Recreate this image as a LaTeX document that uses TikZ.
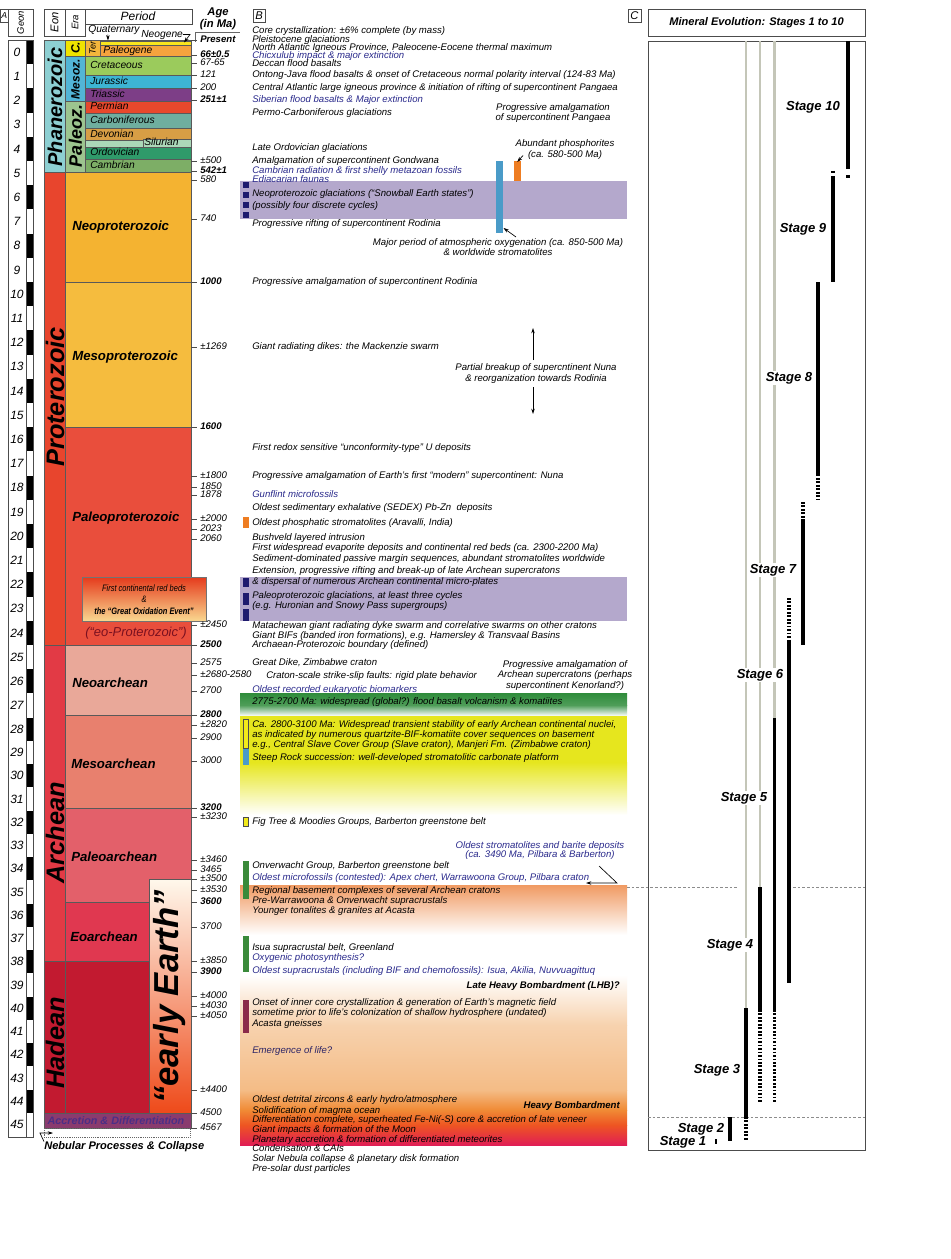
\documentclass[tikz,border=0pt]{standalone}
\usepackage{fontspec}
\setmainfont{Liberation Sans}
\usetikzlibrary{arrows.meta}
\definecolor{navyt}{HTML}{2A2A8C}
\definecolor{lifet}{HTML}{2C2466}
\definecolor{phan}{HTML}{8DCFD2}
\definecolor{ceno}{HTML}{F0E300}
\definecolor{mesoz}{HTML}{52B5D6}
\definecolor{paleoz}{HTML}{9CC48F}
\definecolor{ter}{HTML}{F4B63C}
\definecolor{quat}{HTML}{FFF46A}
\definecolor{neog}{HTML}{F9E51E}
\definecolor{paleog}{HTML}{F6A33E}
\definecolor{cret}{HTML}{9BCB5C}
\definecolor{jur}{HTML}{3DB5D3}
\definecolor{tri}{HTML}{7D3E87}
\definecolor{perm}{HTML}{E8482C}
\definecolor{carb}{HTML}{6FAE9F}
\definecolor{dev}{HTML}{D89E45}
\definecolor{sil}{HTML}{ABD8B8}
\definecolor{ord}{HTML}{2F9A6A}
\definecolor{camb}{HTML}{7DAE66}
\definecolor{prot}{HTML}{E8452D}
\definecolor{neop}{HTML}{F4B331}
\definecolor{mesop}{HTML}{F5BC3E}
\definecolor{paleop}{HTML}{E94E3C}
\definecolor{arch}{HTML}{E23A45}
\definecolor{neoa}{HTML}{E9A899}
\definecolor{mesoa}{HTML}{E8806E}
\definecolor{paleoa}{HTML}{E3606A}
\definecolor{eoa}{HTML}{E03850}
\definecolor{had}{HTML}{C21A30}
\definecolor{accr}{HTML}{8A3B6E}
\definecolor{accrtxt}{HTML}{4B2F86}
\definecolor{glac}{HTML}{B4A8CC}
\definecolor{glacsq}{HTML}{1E1B6E}
\definecolor{barblue}{HTML}{4A9BC8}
\definecolor{barorange}{HTML}{EE7D22}
\definecolor{bargreen}{HTML}{3A8A3A}
\definecolor{barmaroon}{HTML}{8B2A4A}
\definecolor{baryellow}{HTML}{F2EA1A}
\definecolor{bandgreen}{HTML}{2F8C3B}
\definecolor{bandyellow}{HTML}{E6E61E}
\definecolor{eored}{HTML}{7A1020}
\definecolor{graybar}{HTML}{C4C6B8}
\definecolor{lowA}{HTML}{F09A62}
\definecolor{lowB}{HTML}{F7D2AE}
\definecolor{lowC}{HTML}{F4BC86}
\definecolor{lowD}{HTML}{F08A35}
\definecolor{lowE}{HTML}{EE5522}
\definecolor{lowF}{HTML}{E01E55}
\definecolor{eeTop}{HTML}{FFF8EC}
\definecolor{eeMid}{HTML}{F7B570}
\definecolor{eeBot}{HTML}{EE4A1A}
\definecolor{goeTop}{HTML}{E53A1C}
\definecolor{goeMid}{HTML}{F39A3A}
\definecolor{goeBot}{HTML}{F9D890}
\tikzset{
  box/.style={draw=black!70, line width=0.4pt},
  cell/.style={draw=black!65, line width=0.35pt},
  bt/.style={anchor=west, inner sep=0pt, font=\fontsize{7.2}{8}\selectfont\itshape, text height=5.1pt, text depth=1.5pt},
  bb/.style={bt, text=navyt},
  bc/.style={anchor=center, inner sep=0pt, align=center, font=\fontsize{7.2}{7.9}\selectfont\itshape},
  agel/.style={anchor=west, inner sep=0pt, font=\fontsize{7.2}{8}\selectfont\itshape, text height=5.1pt, text depth=1.5pt},
  ageb/.style={anchor=west, inner sep=0pt, font=\fontsize{7.2}{8}\selectfont\itshape\bfseries, text height=5.1pt, text depth=1.5pt},
  eon/.style={rotate=90, inner sep=0pt, font=\fontsize{19}{19}\selectfont\itshape\bfseries},
  eralbl/.style={anchor=west, inner sep=0pt, font=\fontsize{9.9}{10}\selectfont\itshape\bfseries},
  perlbl/.style={anchor=west, inner sep=0pt, font=\fontsize{7.7}{8}\selectfont\itshape, text height=5.5pt, text depth=1.6pt},
  stagelbl/.style={inner sep=0.6pt, font=\fontsize{9.8}{10}\selectfont\itshape\bfseries},
  stagefill/.style={stagelbl, fill=white},
  stagebar/.style={line width=2.4pt},
  stagedot/.style={line width=2.4pt, dash pattern=on 1.3pt off 1.3pt},
  grayline/.style={draw=graybar, line width=1.6pt},
  arr/.style={-{Stealth[length=4pt,width=2.6pt]}, line width=0.5pt},
  geonnum/.style={inner sep=0pt, font=\fontsize{9}{9}\selectfont\itshape},
  hdr/.style={inner sep=0pt, font=\fontsize{8.4}{9}\selectfont\itshape},
  agetick/.style={draw=black!70, line width=0.4pt},
  sepdash/.style={draw=black!45, line width=0.4pt, dash pattern=on 2pt off 1.5pt},
}
\begin{document}
\begin{tikzpicture}[x=0.75pt,y=-0.75pt]
\useasboundingbox (0,0) rectangle (950,1259);
\fill[white] (0,0) rectangle (950,1259);

% panel label A (at the left edge)
\draw[box] (0.5,9) rectangle (8,22);
\node[hdr, font=\fontsize{6.5}{7}\selectfont\itshape] (lblA) at (4.3,15.5) {A};

% ---------------- Geon column
\draw[box] (8,9) rectangle (33,36);
\node[hdr, rotate=90, font=\fontsize{7.1}{8}\selectfont\itshape] (geonh) at (20.5,22.5) {Geon};
\foreach \g in {0,...,45}{
  \pgfmathsetmacro\ya{(100*\g)<2801 ? 40+0.242*100*\g : 717.6+(100*\g-2800)*0.2325}
  \pgfmathsetmacro\yb{(100*\g+100)<2801 ? 40+0.242*(100*\g+100) : 717.6+(100*\g+100-2800)*0.2325}
  \pgfmathsetmacro\ym{(\ya+\yb)/2}
  \pgfmathtruncatemacro\ev{mod(\g,2)}
  \ifnum\ev=0 \fill[black] (26.5,\ya) rectangle (33,\yb); \fi
  \node[geonnum] (geon\g) at (17,\ym) {\g};
}
\draw[box] (8,40) rectangle (33,1137);
\draw[box] (26,40) -- (26,1137);

% ---------------- headers
\draw[box] (44,9) rectangle (65,36);
\draw[box] (65,9) rectangle (85,36);
\draw[box] (85,9) rectangle (192,24);
\node[hdr, rotate=90] (eonh) at (54.5,22.5) {Eon};
\node[hdr, rotate=90, font=\fontsize{7.2}{8}\selectfont\itshape] (erah) at (75,22.5) {Era};
\node[hdr, font=\fontsize{9}{9}\selectfont\itshape] (perh) at (138,16.5) {Period};
\node[hdr, font=\fontsize{8.4}{9}\selectfont\itshape\bfseries] (ageh1) at (218,13) {Age};
\node[hdr, font=\fontsize{8.4}{9}\selectfont\itshape\bfseries] (ageh2) at (218,25) {(in Ma)};
\draw[black!60, line width=0.4pt] (195,42) -- (195,32) -- (240,32);

% ---------------- Phanerozoic
\filldraw[cell, fill=phan] (44,40) rectangle (65,172);
\filldraw[cell, fill=ceno] (65,40) rectangle (85,56);
\filldraw[cell, fill=mesoz] (65,56) rectangle (85,101);
\filldraw[cell, fill=paleoz] (65,101) rectangle (85,172);
\filldraw[cell, fill=ter] (85,40) rectangle (100,56);
\filldraw[cell, fill=quat] (100,40) rectangle (191,41.2);
\filldraw[cell, fill=neog] (100,41.2) rectangle (191,45);
\filldraw[cell, fill=paleog] (100,45) rectangle (191,56);
\filldraw[cell, fill=cret] (85,56) rectangle (191,75);
\filldraw[cell, fill=jur] (85,75) rectangle (191,88);
\filldraw[cell, fill=tri] (85,88) rectangle (191,101);
\filldraw[cell, fill=perm] (85,101) rectangle (191,113);
\filldraw[cell, fill=carb] (85,113) rectangle (191,128);
\filldraw[cell, fill=dev] (85,128) rectangle (191,140);
\filldraw[cell, fill=sil] (85,140) rectangle (191,147);
\filldraw[cell, fill=sil] (143,139) rectangle (191,147.5);
\filldraw[cell, fill=ord] (85,147) rectangle (191,159);
\filldraw[cell, fill=camb] (85,159) rectangle (191,172);

\node[eon, font=\fontsize{15}{15}\selectfont\itshape\bfseries] (phanl) at (55,107) {Phanerozoic};
\node[rotate=90, inner sep=0pt, font=\fontsize{9}{9}\selectfont\itshape\bfseries] (cenl) at (75.5,48) {C.};
\node[rotate=90, inner sep=0pt, font=\fontsize{9}{9}\selectfont\itshape\bfseries] (mesozl) at (75.5,79) {Mesoz.};
\node[rotate=90, inner sep=0pt, font=\fontsize{13.5}{13.5}\selectfont\itshape\bfseries] (paleozl) at (75.5,136) {Paleoz.};
\node[rotate=90, inner sep=0pt, font=\fontsize{6.8}{7}\selectfont\itshape] (terl) at (92.5,48) {Ter};
\node[perlbl] (pPaleog) at (103,50.7) {Paleogene};
\node[perlbl] (pCret) at (90,66) {Cretaceous};
\node[perlbl] (pJur) at (90,82) {Jurassic};
\node[perlbl] (pTri) at (90,95) {Triassic};
\node[perlbl] (pPerm) at (90,107) {Permian};
\node[perlbl] (pCarb) at (90,120.5) {Carboniferous};
\node[perlbl] (pDev) at (90,134.5) {Devonian};
\node[perlbl] (pSil) at (144,143.3) {Silurian};
\node[perlbl] (pOrd) at (90,153) {Ordovician};
\node[perlbl] (pCamb) at (90,165.5) {Cambrian};
\node[perlbl] (pQuat) at (88,29.5) {Quaternary};
\node[perlbl] (pNeog) at (141,34.5) {Neogene};
\coordinate (quatTip) at (108,40.5);
\coordinate (neogA) at (190,34.5);
\coordinate (neogTip) at (184,42.5);
\draw[arr] ([xshift=-24pt]pQuat.south east) -- (quatTip);
\draw[arr] (pNeog.east) -- (neogA) -- (neogTip);

% ---------------- Proterozoic
\filldraw[cell, fill=prot] (44,172) rectangle (65,645);
\filldraw[cell, fill=neop] (65,172) rectangle (191,282);
\filldraw[cell, fill=mesop] (65,282) rectangle (191,427);
\filldraw[cell, fill=paleop] (65,427) rectangle (191,645);
\node[eon] (protl) at (55,397) {Proterozoic};
\node[eralbl] (eNeop) at (72,227) {Neoproterozoic};
\node[eralbl] (eMesop) at (72,357) {Mesoproterozoic};
\node[eralbl] (ePaleop) at (72,518) {Paleoproterozoic};
\shade[top color=goeTop, middle color=goeMid, bottom color=goeBot] (82,577) rectangle (206,621);
\draw[box, draw=black!55] (82,577) rectangle (206,621);
\node[inner sep=0pt, font=\fontsize{7}{7}\selectfont\itshape] (goe1) at (144,588) {\scalebox{0.8}[1]{First continental red beds}};
\node[inner sep=0pt, font=\fontsize{7}{7}\selectfont\itshape] (goe2) at (144,599.5) {\scalebox{0.8}[1]{\&}};
\node[inner sep=0pt, font=\fontsize{7}{7}\selectfont\itshape\bfseries] (goe3) at (144,611.5) {\scalebox{0.8}[1]{the “Great Oxidation Event”}};
\node[inner sep=0pt, text=eored, font=\fontsize{9.7}{10}\selectfont\itshape] (eoprot) at (136,633) {(“eo-Proterozoic”)};

% ---------------- Archean / Hadean
\filldraw[cell, fill=arch] (44,645) rectangle (65,961);
\filldraw[cell, fill=neoa] (65,645) rectangle (191,715);
\filldraw[cell, fill=mesoa] (65,715) rectangle (191,808);
\filldraw[cell, fill=paleoa] (65,808) rectangle (191,902);
\filldraw[cell, fill=eoa] (65,902) rectangle (149,961);
\filldraw[cell, fill=had] (44,961) rectangle (149,1113);
\draw[cell] (65,961) -- (65,1113);
\shade[top color=eeTop, middle color=eeMid, bottom color=eeBot] (149,879) rectangle (191,1113);
\draw[cell] (149,879) rectangle (191,1113);
\filldraw[cell, fill=accr] (44,1113) rectangle (191,1128);
\draw[black!60, line width=0.4pt, densely dotted] (44,1128) rectangle (190,1137);
\node[eon] (archl) at (55,833) {Archean};
\node[eon] (hadl) at (55,1043) {Hadean};
\node[eralbl] (eNeoa) at (72,683) {Neoarchean};
\node[eralbl] (eMesoa) at (71,764) {Mesoarchean};
\node[eralbl] (ePaleoa) at (71,857) {Paleoarchean};
\node[eralbl] (eEoa) at (70,937) {Eoarchean};
\node[rotate=90, inner sep=0pt, font=\fontsize{26}{26}\selectfont\itshape\bfseries] (early) at (170,997) {“early Earth”};
\node[inner sep=0pt, text=accrtxt, font=\fontsize{8.1}{8.5}\selectfont\itshape\bfseries] (accrl) at (116,1121) {Accretion \& Differentiation};
\node[anchor=west, inner sep=0pt, font=\fontsize{8.3}{8.5}\selectfont\itshape\bfseries] (neb) at (44,1147) {Nebular Processes \& Collapse};
\coordinate (nebA) at (40,1133);
\coordinate (nebB) at (53,1133);
\draw[arr] (neb.north west) -- (nebA) -- (nebB);

% ---------------- Age labels
\foreach \y/\t/\s [count=\i] in {
 40/Present/ageb, 55/66±0.5/ageb, 63/67-65/agel, 75/121/agel, 88/200/agel,
 100/251±1/ageb, 161/±500/agel, 171/542±1/ageb, 180/580/agel, 219/740/agel,
 282/1000/ageb, 347/±1269/agel, 427/1600/ageb, 476/±1800/agel, 487/1850/agel,
 495.5/1878/agel, 519/±2000/agel, 529/2023/agel, 539/2060/agel, 625/±2450/agel,
 645/2500/ageb, 663/2575/agel, 675/±2680-2580/agel, 691/2700/agel, 715/2800/ageb,
 725/±2820/agel, 738/2900/agel, 761/3000/agel, 808/3200/ageb, 817/±3230/agel,
 860/±3460/agel, 870/3465/agel, 879.5/±3500/agel, 890/±3530/agel, 902/3600/ageb,
 927/3700/agel, 961/±3850/agel, 972/3900/ageb, 996/±4000/agel, 1006/±4030/agel,
 1016/±4050/agel, 1090/±4400/agel, 1113/4500/agel, 1128/4567/agel}{
  \node[\s] (age\i) at (200,\y) {\t};
  \draw[agetick] (191,\y) -- (197,\y);
}

% ---------------- Panel B
\draw[box] (253,9) rectangle (265,22);
\node[hdr] (lblB) at (259,15.5) {B};

% background bands
\fill[glac] (240,181) rectangle (627,219);
\fill[glac] (240,577) rectangle (627,621);
\shade[top color=bandgreen, bottom color=bandgreen!85!white] (240,693) rectangle (627,705);
\shade[top color=bandgreen!85!white, bottom color=white] (240,705) rectangle (627,716);
\fill[bandyellow] (240,716) rectangle (627,762);
\shade[top color=bandyellow, bottom color=white] (240,762) rectangle (627,815);
\shade[top color=lowA, bottom color=white] (240,885) rectangle (627,935);
\shade[top color=white, bottom color=lowB] (240,975) rectangle (627,1025);
\shade[top color=lowB, bottom color=lowC] (240,1025) rectangle (627,1090);
\shade[top color=lowC, bottom color=lowD] (240,1090) rectangle (627,1110);
\shade[top color=lowD, bottom color=lowE] (240,1110) rectangle (627,1125);
\shade[top color=lowE, bottom color=lowF] (240,1125) rectangle (627,1145);

% markers
\foreach \a/\b in {182/188, 192/198, 202/208, 212/218, 578/587, 593/605, 609/621}{
  \fill[glacsq] (243,\a) rectangle (248.5,\b);
}
\fill[barorange] (243,517) rectangle (248.5,528);
\filldraw[fill=baryellow, draw=black!70, line width=0.3pt] (243,719) rectangle (248.5,748);
\fill[barblue] (243,749) rectangle (248.5,765);
\filldraw[fill=baryellow, draw=black!70, line width=0.3pt] (243,817) rectangle (248.5,826);
\fill[bargreen] (243,861) rectangle (248.5,899);
\fill[bargreen] (243,936) rectangle (248.5,972);
\fill[barmaroon] (243,1000) rectangle (248.5,1033);
\fill[barblue] (496,161) rectangle (503,233);
\fill[barorange] (514,161) rectangle (520.5,181);
\coordinate (orTop) at (517.2,162);
\coordinate (blueBot) at (503.5,228);

% texts
\node[bt] (b01) at (252,31) {Core crystallization: ±6\% complete (by mass)};
\node[bt] (b02) at (252,40) {Pleistocene glaciations};
\node[bt] (b03) at (252,48) {North Atlantic Igneous Province, Paleocene-Eocene thermal maximum};
\node[bb] (b04) at (252,56) {Chicxulub impact \& major extinction};
\node[bt] (b05) at (252,64) {Deccan flood basalts};
\node[bt] (b06) at (252,75) {Ontong-Java flood basalts \& onset of Cretaceous normal polarity interval (124-83 Ma)};
\node[bt] (b07) at (252,88) {Central Atlantic large igneous province \& initiation of rifting of supercontinent Pangaea};
\node[bb] (b08) at (252,100) {Siberian flood basalts \& Major extinction};
\node[bt] (b09) at (252,113) {Permo-Carboniferous glaciations};
\node[bc] (pang) at (553,113) {Progressive amalgamation\\of supercontinent Pangaea};
\node[bt] (b10) at (252,148) {Late Ordovician glaciations};
\node[bt] (b11) at (252,161) {Amalgamation of supercontinent Gondwana};
\node[bb] (b12) at (252,171) {Cambrian radiation \& first shelly metazoan fossils};
\node[bb] (b13) at (252,180) {Ediacarian faunas};
\node[bc, font=\fontsize{7.2}{8.25}\selectfont\itshape] (phos) at (565,149.5) {Abundant phosphorites\\(ca. 580-500 Ma)};
\coordinate (phosA) at (523,155.5);
\draw[arr] (phosA) -- (orTop);
\node[bt] (b14) at (252,194) {Neoproterozoic glaciations (“Snowball Earth states”)};
\node[bt] (b15) at (252,206) {(possibly four discrete cycles)};
\node[bt] (b16) at (252,224) {Progressive rifting of supercontinent Rodinia};
\node[bc, font=\fontsize{7.2}{7.6}\selectfont\itshape] (oxy) at (498,247) {Major period of atmospheric oxygenation (ca. 850-500 Ma)\\\& worldwide stromatolites};
\coordinate (oxyA) at (516,237);
\draw[arr] (oxyA) -- (blueBot);
\node[bt] (b17) at (252,282) {Progressive amalgamation of supercontinent Rodinia};
\node[bt] (b18) at (252,347) {Giant radiating dikes: the Mackenzie swarm};
\node[bc, font=\fontsize{7.2}{8.25}\selectfont\itshape] (nuna) at (536,373.5) {Partial breakup of supercntinent Nuna\\\& reorganization towards Rodinia};
\coordinate (nunaUpA) at (533,360);
\coordinate (nunaUpB) at (533,328);
\coordinate (nunaDnA) at (533,387);
\coordinate (nunaDnB) at (533,414);
\draw[arr] (nunaUpA) -- (nunaUpB);
\draw[arr] (nunaDnA) -- (nunaDnB);
\node[bt] (b19) at (252,448) {First redox sensitive “unconformity-type” U deposits};
\node[bt] (b20) at (252,476) {Progressive amalgamation of Earth’s first “modern” supercontinent: Nuna};
\node[bb] (b21) at (252,495) {Gunflint microfossils};
\node[bt] (b22) at (252,508) {Oldest sedimentary exhalative (SEDEX) Pb-Zn\ \ deposits};
\node[bt] (b23) at (252,523) {Oldest phosphatic stromatolites (Aravalli, India)};
\node[bt] (b24) at (252,538) {Bushveld layered intrusion};
\node[bt] (b25) at (252,548) {First widespread evaporite deposits and continental red beds (ca. 2300-2200 Ma)};
\node[bt] (b26) at (252,559) {Sediment-dominated passive margin sequences, abundant stromatolites worldwide};
\node[bt] (b27) at (252,571) {Extension, progressive rifting and break-up of late Archean supercratons};
\node[bt] (b28) at (252,582) {\& dispersal of numerous Archean continental micro-plates};
\node[bt] (b29) at (252,596) {Paleoproterozoic glaciations, at least three cycles};
\node[bt] (b30) at (252,606) {(e.g. Huronian and Snowy Pass supergroups)};
\node[bt] (b31) at (252,626) {Matachewan giant radiating dyke swarm and correlative swarms on other cratons};
\node[bt] (b32) at (252,636) {Giant BIFs (banded iron formations), e.g. Hamersley \& Transvaal Basins};
\node[bt] (b33) at (252,645) {Archaean-Proterozoic boundary (defined)};
\node[bt] (b34) at (252,663) {Great Dike, Zimbabwe craton};
\node[bt] (b35) at (266,676) {Craton-scale strike-slip faults: rigid plate behavior};
\node[bc, font=\fontsize{7.2}{7.9}\selectfont\itshape] (keno) at (565,675.5) {Progressive amalgamation of\\Archean supercratons (perhaps\\supercontinent Kenorland?)};
\node[bb] (b36) at (252,690) {Oldest recorded eukaryotic biomarkers};
\node[bt] (b37) at (252,702) {2775-2700 Ma: widespread (global?) flood basalt volcanism \& komatiites};
\node[bt] (b38) at (252,725) {Ca. 2800-3100 Ma: Widespread transient stability of early Archean continental nuclei,};
\node[bt] (b39) at (252,735) {as indicated by numerous quartzite-BIF-komatiite cover sequences on basement};
\node[bt] (b40) at (252,745) {e.g., Central Slave Cover Group (Slave craton), Manjeri Fm. (Zimbabwe craton)};
\node[bt] (b41) at (252,758) {Steep Rock succession: well-developed stromatolitic carbonate platform};
\node[bt] (b42) at (252,822) {Fig Tree \& Moodies Groups, Barberton greenstone belt};
\node[bc, text=navyt, font=\fontsize{7.2}{7.3}\selectfont\itshape] (strom) at (540,850.5) {Oldest stromatolites and barite deposits\\(ca. 3490 Ma, Pilbara \& Barberton)};
\node[bt] (b43) at (252,866) {Onverwacht Group, Barberton greenstone belt};
\node[bb] (b44) at (252,878) {Oldest microfossils (contested): Apex chert, Warrawoona Group, Pilbara craton};
\coordinate (stA) at (599,866);
\coordinate (stB) at (617,883);
\coordinate (stC) at (586,883);
\draw[arr] (stA) -- (stB) -- (stC);
\node[bt] (b45) at (252,891) {Regional basement complexes of several Archean cratons};
\node[bt] (b46) at (252,901) {Pre-Warrawoona \& Onverwacht supracrustals};
\node[bt] (b47) at (252,911) {Younger tonalites \& granites at Acasta};
\node[bt] (b48) at (252,948) {Isua supracrustal belt, Greenland};
\node[bb] (b49) at (252,958) {Oxygenic photosynthesis?};
\node[bb] (b50) at (252,971) {Oldest supracrustals (including BIF and chemofossils): Isua, Akilia, Nuvvuagittuq};
\node[bt, anchor=east, font=\fontsize{7.2}{8}\selectfont\itshape\bfseries] (lhb) at (620,986) {Late Heavy Bombardment (LHB)?};
\node[bt] (b51) at (252,1003) {Onset of inner core crystallization \& generation of Earth’s magnetic field};
\node[bt] (b52) at (252,1013) {sometime prior to life’s colonization of shallow hydrosphere (undated)};
\node[bt] (b53) at (252,1024) {Acasta gneisses};
\node[bt, text=lifet] (b54) at (252,1051) {Emergence of life?};
\node[bt] (b55) at (252,1100) {Oldest detrital zircons \& early hydro/atmosphere};
\node[bt, anchor=east, font=\fontsize{7.2}{8}\selectfont\itshape\bfseries] (hb) at (620,1106) {Heavy Bombardment};
\node[bt] (b56) at (252,1111) {Solidification of magma ocean};
\node[bt] (b57) at (252,1120) {Differentiation complete, superheated Fe-Ni(-S) core \& accretion of late veneer};
\node[bt] (b58) at (252,1130) {Giant impacts \& formation of the Moon};
\node[bt] (b59) at (252,1140) {Planetary accretion \& formation of differentiated meteorites};
\node[bt] (b60) at (252,1149) {Condensation \& CAIs};
\node[bt] (b61) at (252,1159) {Solar Nebula collapse \& planetary disk formation};
\node[bt] (b62) at (252,1169) {Pre-solar dust particles};

% ---------------- Panel C
\draw[box] (628,9) rectangle (641,22);
\node[hdr] (lblC) at (634.5,15.5) {C};
\draw[box] (648,9) rectangle (865,36);
\node[inner sep=0pt, font=\fontsize{8.3}{9}\selectfont\itshape\bfseries] (ctitle) at (756.5,23) {Mineral Evolution: Stages 1 to 10};
\draw[box] (648,41) rectangle (865,1150);
\draw[sepdash] (627,887) -- (738,887);
\draw[sepdash] (793,887) -- (865,887);
\draw[sepdash] (648,1117) -- (865,1117);

\draw[grayline] (746,41) -- (746,1008);
\draw[grayline] (760,41) -- (760,887);
\draw[grayline] (774.5,41) -- (774.5,718);

% stage bars
\draw[stagebar] (848,41) -- (848,169);
\draw[stagebar] (848,175) -- (848,178);
\draw[stagebar] (833,171) -- (833,173.5);
\draw[stagebar] (833,176) -- (833,282);
\draw[stagebar] (818,282) -- (818,476);
\draw[stagedot] (818,478) -- (818,499);
\draw[stagedot] (803,502) -- (803,520);
\draw[stagebar] (803,520) -- (803,645);
\draw[stagedot] (789,598) -- (789,640);
\draw[stagebar] (789,640) -- (789,983);
\draw[stagebar] (774.5,718) -- (774.5,1010);
\draw[stagedot] (774.5,1010) -- (774.5,1103);
\draw[stagebar] (760,887) -- (760,1010);
\draw[stagedot] (760,1010) -- (760,1103);
\draw[stagebar] (746,1008) -- (746,1117);
\draw[stagedot] (746,1117) -- (746,1141);
\draw[stagebar] (730,1117) -- (730,1141);
\draw[line width=1.6pt] (716,1139) -- (716,1144);

% stage labels
\node[stagelbl] (s10) at (813,107) {Stage 10};
\node[stagelbl] (s9) at (803,229) {Stage 9};
\node[stagefill] (s8) at (789,378) {Stage 8};
\node[stagefill] (s7) at (773,570) {Stage 7};
\node[stagefill] (s6) at (760,675) {Stage 6};
\node[stagefill] (s5) at (744,798) {Stage 5};
\node[stagefill] (s4) at (730,945) {Stage 4};
\node[stagelbl] (s3) at (717,1070) {Stage 3};
\node[stagelbl] (s2) at (701,1129) {Stage 2};
\node[stagelbl] (s1) at (683,1142) {Stage 1};
\end{tikzpicture}
\end{document}
